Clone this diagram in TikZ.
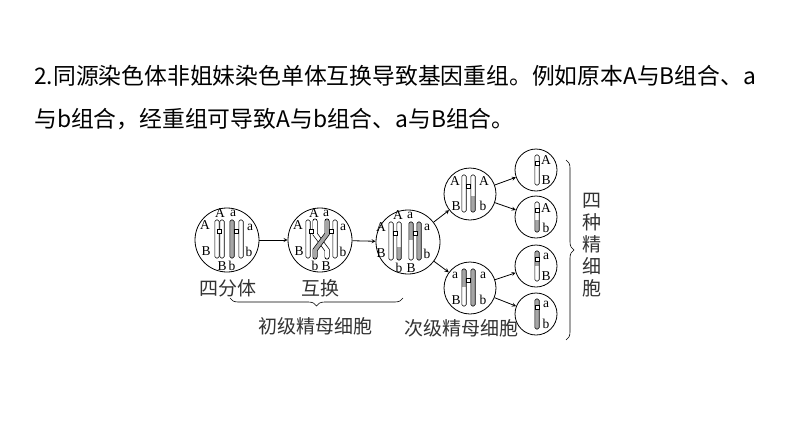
\documentclass[tikz,border=0pt]{standalone}
\usepackage{fontspec}
\setmainfont{Liberation Serif}
\newfontfamily\cjk{Noto Sans CJK SC}
\usetikzlibrary{decorations.pathreplacing}
\tikzset{cell/.style={circle, draw, thick, inner sep=0pt},
  lab/.style={inner sep=0pt, font=\fontsize{13.5}{13.5}\selectfont},
  captxt/.style={inner sep=0pt, font=\cjk\fontsize{19}{19}\selectfont, text=black!80},
  arr/.style={-stealth, thick}}
% one chromatid: fill, x, top, bottom
\newcommand{\chrom}[4][white]{\draw[fill=#1, rounded corners=1.5pt] (#2-2.2,#3) rectangle (#2+2.2,#4);}
% two-coloured chromatid: x, top, split, bottom, upper fill, lower fill
\newcommand{\chromtwo}[6]{\fill[#5] (#1-2.2,#2) rectangle (#1+2.2,#3); \fill[#6] (#1-2.2,#3) rectangle (#1+2.2,#4);
  \draw[rounded corners=1.5pt] (#1-2.2,#2) rectangle (#1+2.2,#4);}
\newcommand{\centro}[2]{\draw[fill=white] (#1-2,#2-2) rectangle (#1+2,#2+2);}
\begin{document}
\begin{tikzpicture}[x=1pt, y=-1pt, line width=0.6pt]
\useasboundingbox[fill=white] (0,0) rectangle (794,447);
\node[anchor=west, inner sep=0pt, font=\cjk\fontsize{22.8}{22.8}\selectfont] (line1) at (34,76) {2.同源染色体非姐妹染色单体互换导致基因重组。例如原本A与B组合、a};
\node[anchor=west, inner sep=0pt, font=\cjk\fontsize{22.8}{22.8}\selectfont] (line2) at (34,119) {与b组合，经重组可导致A与b组合、a与B组合。};

\node[cell, minimum size=64pt] (c1) at (227,240) {};
\node[cell, minimum size=64pt] (c2) at (320,240) {};
\node[cell, minimum size=64pt] (c3) at (408,242) {};
\node[cell, minimum size=52pt] (c4) at (470,194) {};
\node[cell, minimum size=52pt] (c5) at (470,288) {};
\node[cell, minimum size=42pt] (d1) at (536,170) {};
\node[cell, minimum size=42pt] (d2) at (536,217) {};
\node[cell, minimum size=42pt] (d3) at (536,266) {};
\node[cell, minimum size=42pt] (d4) at (536,314) {};

% tetrad
\chrom{217}{220}{258} \chrom{222}{220}{258} \centro{219.5}{231}
\chrom[gray!70]{232}{220}{258} \chrom{241}{220}{258} \centro{236.5}{231}
\node[lab] (a1) at (205,225) {A}; \node[lab] (b1) at (206,251) {B};
\node[lab] (a2) at (220,213) {A}; \node[lab] (a3) at (233,213) {a};
\node[lab] (a4) at (250,227) {a}; \node[lab] (b2) at (249,252) {b};
\node[lab] (b3) at (222,266) {B}; \node[lab] (b4) at (232,266) {b};

% crossing over
\chrom{308}{220}{258} \chrom{335}{220}{258}
\draw[line width=5pt, line cap=round] (315,221) -- (315,234) -- (327,250) -- (327,257);
\draw[white, line width=3.6pt, line cap=round] (315,221) -- (315,234) -- (327,250) -- (327,257);
\draw[line width=5pt, line cap=round] (327,221) -- (327,234) -- (315,250) -- (315,257);
\draw[gray!70, line width=3.6pt, line cap=round] (327,221) -- (327,234) -- (315,250) -- (315,257);
\centro{311.5}{231} \centro{331}{231}
\node[lab] (a5) at (298,225) {A}; \node[lab] (b5) at (299,251) {B};
\node[lab] (a6) at (314,213) {A}; \node[lab] (a7) at (326,213) {a};
\node[lab] (a8) at (343,227) {a}; \node[lab] (b6) at (343,252) {b};
\node[lab] (b7) at (315,266) {b}; \node[lab] (b8) at (326,266) {B};

% after exchange
\chrom{391}{222}{260} \chromtwo{399}{222}{247}{260}{white}{gray!70} \centro{395}{233}
\chromtwo{411}{222}{240}{260}{gray!70}{white} \chrom[gray!70]{419}{222}{260} \centro{415}{233}
\node[lab] (a9) at (381,227) {A}; \node[lab] (b9) at (381,253) {B};
\node[lab] (a10) at (398,215) {A}; \node[lab] (a11) at (410,215) {a};
\node[lab] (a12) at (427,227) {a}; \node[lab] (b10) at (427,254) {b};
\node[lab] (b11) at (399,268) {b}; \node[lab] (b12) at (411,268) {B};

% secondary cells
\chrom{464}{175}{212} \chromtwo{473}{175}{196}{212}{white}{gray!70} \centro{468.5}{186}
\node[lab] (a13) at (455,181) {A}; \node[lab] (a14) at (484,181) {A};
\node[lab] (b13) at (456,206) {B}; \node[lab] (b14) at (483,206) {b};
\chromtwo{464}{269}{287}{306}{gray!70}{white} \chrom[gray!70]{473}{269}{306} \centro{468.5}{280}
\node[lab] (a15) at (455,275) {a}; \node[lab] (a16) at (483,275) {a};
\node[lab] (b15) at (456,300) {B}; \node[lab] (b16) at (483,300) {b};

% sperm cells
\chrom{537}{155}{185} \centro{537}{163}
\node[lab] (e1) at (546,160) {A}; \node[lab] (e2) at (546,180) {B};
\chromtwo{537}{202}{220}{232}{white}{gray!70} \centro{537}{210}
\node[lab] (e3) at (546,208) {A}; \node[lab] (e4) at (546,228) {b};
\chromtwo{537}{251}{266}{281}{gray!70}{white} \centro{537}{259}
\node[lab] (e5) at (546,256) {a}; \node[lab] (e6) at (546,276) {B};
\chrom[gray!70]{537}{299}{329} \centro{537}{307}
\node[lab] (e7) at (546,304) {a}; \node[lab] (e8) at (546,324) {b};

\draw[arr] (c1) -- (c2);
\draw[arr] (c2) -- (c3);
\draw[arr] (c3) -- (c4);
\draw[arr] (c3) -- (c5);
\draw[arr] (c4) -- (d1);
\draw[arr] (c4) -- (d2);
\draw[arr] (c5) -- (d3);
\draw[arr] (c5) -- (d4);

\node[captxt] (t1) at (228,288) {四分体};
\node[captxt] (t2) at (320,288) {互换};
\draw[decorate, decoration={brace, amplitude=8pt, mirror}] (230,298) -- (403,298);
\node[captxt] (t3) at (315,326) {初级精母细胞};
\node[captxt] (t4) at (461,328) {次级精母细胞};
\draw[decorate, decoration={brace, amplitude=8pt}] (566,160) -- (566,340);
\node[captxt, align=center, font=\cjk\fontsize{19}{22}\selectfont] (t5) at (592,245) {四\\种\\精\\细\\胞};
\end{tikzpicture}
\end{document}
